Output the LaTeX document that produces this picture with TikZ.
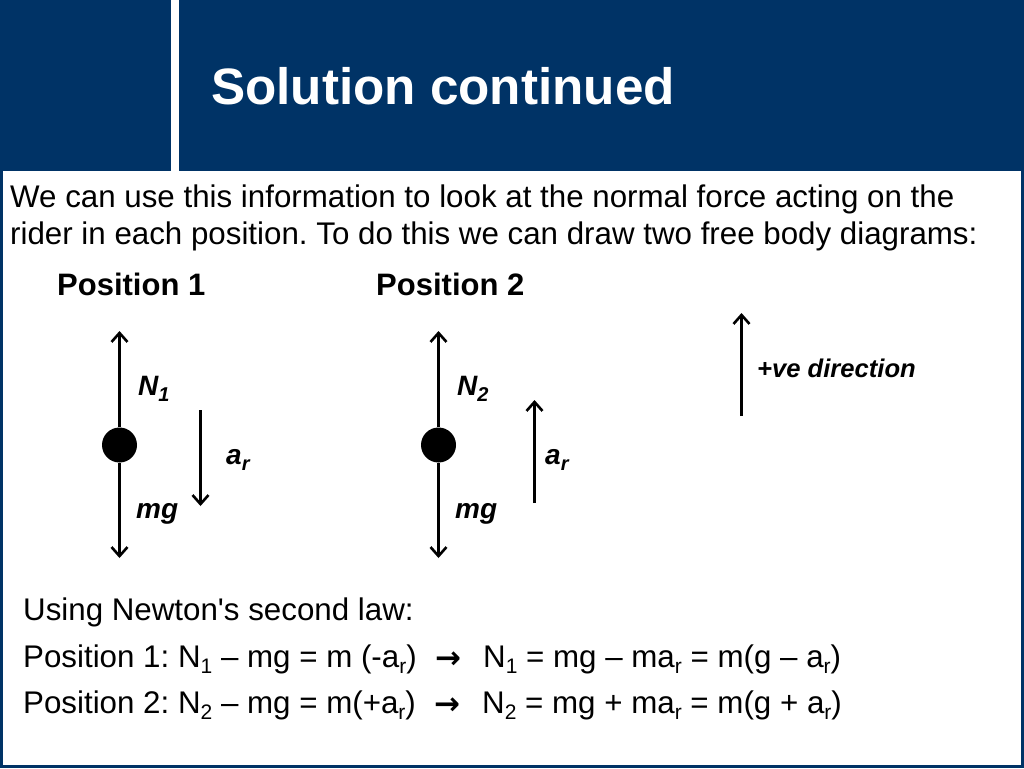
\documentclass[tikz,border=0pt]{standalone}
\usepackage{fontspec}
\setmainfont{Liberation Sans}
\newfontfamily\arrowfont{DejaVu Sans}
\usetikzlibrary{arrows.meta}
\frenchspacing
\definecolor{slideblue}{RGB}{0,51,102}
\newcommand{\low}[1]{\raisebox{-0.22em}{\fontsize{21}{21}\selectfont #1}}
\newcommand{\lowit}[1]{\raisebox{-0.22em}{\fontsize{20}{20}\selectfont #1}}
\newcommand{\apos}{\XeTeXglyph\XeTeXcharglyph"27 }
\tikzset{
    body/.style={anchor=base west,inner sep=0pt,font=\fontsize{31.3}{31.3}\selectfont},
    heading/.style={anchor=base west,inner sep=0pt,font=\bfseries\fontsize{31}{31}\selectfont},
    force/.style={anchor=base west,inner sep=0pt,font=\bfseries\itshape\fontsize{28}{28}\selectfont},
    ball/.style={circle,fill=black,minimum size=35pt,inner sep=0pt},
    vec/.style={line width=3pt,-{Straight Barb[length=9pt,width=16pt,line width=2.6pt]}}
}
\begin{document}
\begin{tikzpicture}[x=1pt,y=-1pt]
    \useasboundingbox (0,0) rectangle (1024,768);
    % slide frame
    \fill [slideblue] (0,0) rectangle (1024,768);
    \fill [white] (3,171) rectangle (1021,765);
    \fill [white] (171,0) rectangle (179,171);
    \node [anchor=base west,inner sep=0pt,text=white,font=\bfseries\fontsize{51.2}{51.2}\selectfont] (title) at (211,104) {Solution continued};
    % intro
    \node [body] (introa) at (10,207) {We can use this information to look at the normal force acting on the};
    \node [body] (introb) at (10,244) {rider in each position. To do this we can draw two free body diagrams:};
    \node [heading] (posa) at (57,295) {Position 1};
    \node [heading] (posb) at (376,295) {Position 2};
    % position 1
    \node [ball] (balla) at (119.5,445) {};
    \coordinate (topa) at (119.5,331);
    \coordinate (bota) at (119.5,558);
    \draw [vec] (balla) -- (topa);
    \draw [vec] (balla) -- (bota);
    \coordinate (acca) at (200.5,410);
    \coordinate (accb) at (200.5,506);
    \draw [vec] (acca) -- (accb);
    \node [force] (na) at (138,395) {N\lowit{1}};
    \node [force] (ra) at (226,464) {a\lowit{r}};
    \node [force] (mga) at (136,518) {mg};
    % position 2
    \node [ball] (ballb) at (438.5,445) {};
    \coordinate (topb) at (438.5,331);
    \coordinate (botb) at (438.5,558);
    \draw [vec] (ballb) -- (topb);
    \draw [vec] (ballb) -- (botb);
    \coordinate (accc) at (534.5,503);
    \coordinate (accd) at (534.5,400);
    \draw [vec] (accc) -- (accd);
    \node [force] (nb) at (457,395) {N\lowit{2}};
    \node [force] (rb) at (545,464) {a\lowit{r}};
    \node [force] (mgb) at (455,518) {mg};
    % direction
    \coordinate (dira) at (741.5,416);
    \coordinate (dirb) at (741.5,313);
    \draw [vec] (dira) -- (dirb);
    \node [force,font=\bfseries\itshape\fontsize{25.6}{25.6}\selectfont] (dir) at (757,377) {+ve direction};
    % equations
    \node [body] (law) at (23,620) {Using Newton\apos s second law:};
    \node [body] (eqa) at (23,667) {Position 1: N\low{1} – mg = m (-a\low{r})};
    \node [body] (eqb) at (23,713) {Position 2: N\low{2} – mg = m(+a\low{r})};
    \node [body,font=\arrowfont\bfseries\fontsize{31}{31}\selectfont] (impa) at (435,668) {→};
    \node [body,font=\arrowfont\bfseries\fontsize{31}{31}\selectfont] (impb) at (434,714) {→};
    \node [body] (resa) at (483,667) {N\low{1} = mg – ma\low{r} = m(g – a\low{r})};
    \node [body] (resb) at (482,713) {N\low{2} = mg + ma\low{r} = m(g + a\low{r})};
\end{tikzpicture}
\end{document}
